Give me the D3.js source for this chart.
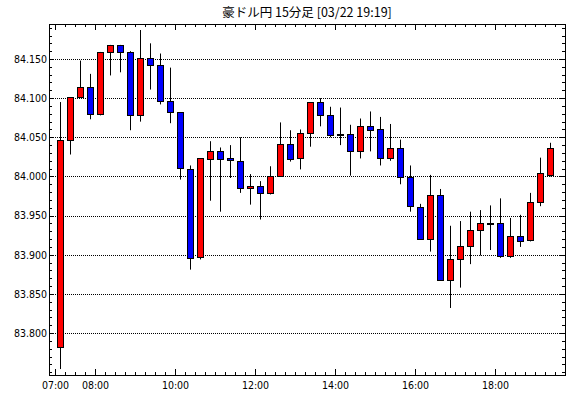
<!DOCTYPE html>
<html>
<head>
<meta charset="utf-8">
<script src="https://cdn.jsdelivr.net/npm/d3@7"></script>
<style>
  body { margin: 0; background: #fff; }
  svg { display: block; }
  .tick text { font-family: 'DejaVu Sans Condensed', 'DejaVu Sans', sans-serif; font-stretch: condensed; font-size: 10.5px; fill: #000; }
  .title { font-family: 'Noto Sans CJK JP', sans-serif; font-size: 12.5px; }
</style>
</head>
<body>
<svg></svg>
<script>
let width = 570,
    height = 398,
    plotLeft = 49,
    plotRight = 565,
    plotTop = 24,
    plotBottom = 375

const times = ["07:00","07:15","07:30","07:45","08:00","08:15","08:30","08:45",
  "09:00","09:15","09:30","09:45","10:00","10:15","10:30","10:45",
  "11:00","11:15","11:30","11:45","12:00","12:15","12:30","12:45",
  "13:00","13:15","13:30","13:45","14:00","14:15","14:30","14:45",
  "15:00","15:15","15:30","15:45","16:00","16:15","16:30","16:45",
  "17:00","17:15","17:30","17:45","18:00","18:15","18:30","18:45",
  "19:00","19:15"]

const opens = [83.782,84.046,84.101,84.114,84.080,84.159,84.168,84.159,
  84.078,84.151,84.142,84.096,84.082,84.010,83.896,84.023,
  84.033,84.023,84.020,83.985,83.988,83.979,84.001,84.042,
  84.023,84.055,84.095,84.078,84.054,84.054,84.032,84.064,
  84.060,84.023,84.036,83.999,83.961,83.920,83.976,83.868,
  83.895,83.911,83.931,83.940,83.941,83.899,83.924,83.918,
  83.967,84.001]

const highs = [84.095,84.101,84.148,84.131,84.159,84.168,84.168,84.160,
  84.187,84.170,84.157,84.139,84.082,84.014,84.023,84.045,
  84.037,84.040,84.050,84.003,83.994,84.013,84.069,84.059,
  84.060,84.095,84.100,84.089,84.088,84.066,84.074,84.083,
  84.076,84.067,84.047,84.014,83.965,84.002,83.984,83.937,
  83.943,83.955,83.957,83.963,83.972,83.947,83.951,83.979,
  84.024,84.043]

const lows = [83.754,84.028,84.101,84.073,84.078,84.129,84.133,84.059,
  84.070,84.111,84.092,84.068,83.996,83.881,83.894,83.969,
  83.955,83.998,83.979,83.964,83.945,83.977,84.001,84.019,
  84.009,84.038,84.064,84.050,84.040,84.001,84.023,84.032,
  84.014,84.020,83.990,83.955,83.920,83.904,83.867,83.832,
  83.858,83.888,83.899,83.906,83.896,83.896,83.910,83.917,
  83.962,84.000]

const closes = [84.046,84.101,84.114,84.080,84.159,84.168,84.159,84.078,
  84.151,84.142,84.096,84.082,84.010,83.896,84.023,84.033,
  84.023,84.020,83.985,83.988,83.979,84.001,84.042,84.023,
  84.055,84.095,84.078,84.053,84.054,84.032,84.064,84.059,
  84.023,84.036,83.999,83.962,83.920,83.976,83.868,83.895,
  83.911,83.931,83.940,83.941,83.899,83.924,83.918,83.967,
  84.004,84.036]

const yTicks = [83.800, 83.850, 83.900, 83.950, 84.000, 84.050, 84.100, 84.150]
const xTickLabels = ["07:00", "08:00", "10:00", "12:00", "14:00", "16:00", "18:00"]
const title = "豪ドル円 15分足 [03/22 19:19]"

const parse = d3.timeParse("%H:%M")

const candles = times.map((t, i) => {
    return {t: parse(t), o: opens[i], h: highs[i], l: lows[i], c: closes[i]}
})

let svg = d3.select("svg")
            .attr("width", width)
            .attr("height", height)

const x = d3.scaleTime()
    .domain([parse("06:51"), parse("19:45")])
    .range([plotLeft, plotRight])

const y = d3.scaleLinear()
    .domain([83.7464, 84.1947])
    .range([plotBottom, plotTop])

const mid = d => d3.timeSecond.offset(d.t, 450)

svg.append("text")
    .attr("class", "title")
    .attr("x", (plotLeft + plotRight) / 2)
    .attr("y", 17)
    .attr("text-anchor", "middle")
    .text(title)

// dotted grid
svg.append("g")
    .attr("transform", `translate(${plotLeft},0)`)
    .call(d3.axisLeft(y).tickValues(yTicks).tickSize(-(plotRight - plotLeft)).tickFormat(""))
    .call(g => g.select(".domain").remove())
    .selectAll("line")
    .attr("stroke", "#000")
    .attr("stroke-dasharray", "1,1")
    .attr("shape-rendering", "crispEdges")

const minorY = d3.range(83.75, 84.195, 0.01)
const minorX = d3.timeMinute.every(15).range(parse("07:00"), parse("19:46"))
const majorX = xTickLabels.map(parse)

const styleAxis = g => {
    g.select(".domain").remove()
    g.selectAll("line").attr("stroke", "#000").attr("shape-rendering", "crispEdges")
}

// left
svg.append("g").attr("transform", `translate(${plotLeft},0)`)
    .call(d3.axisLeft(y).tickValues(minorY).tickSize(-3).tickFormat(""))
    .call(styleAxis)
svg.append("g").attr("transform", `translate(${plotLeft},0)`)
    .call(d3.axisLeft(y).tickValues(yTicks).tickSize(-5).tickPadding(2).tickFormat(d3.format(".3f")))
    .call(styleAxis)

// right
svg.append("g").attr("transform", `translate(${plotRight},0)`)
    .call(d3.axisRight(y).tickValues(minorY).tickSize(-3).tickFormat(""))
    .call(styleAxis)
svg.append("g").attr("transform", `translate(${plotRight},0)`)
    .call(d3.axisRight(y).tickValues(yTicks).tickSize(-5).tickFormat(""))
    .call(styleAxis)

// bottom
svg.append("g").attr("transform", `translate(0,${plotBottom})`)
    .call(d3.axisBottom(x).tickValues(minorX).tickSize(-3).tickFormat(""))
    .call(styleAxis)
svg.append("g").attr("transform", `translate(0,${plotBottom})`)
    .call(d3.axisBottom(x).tickValues(majorX).tickSize(-6).tickPadding(7).tickFormat(d3.timeFormat("%H:%M")))
    .call(styleAxis)

// top
svg.append("g").attr("transform", `translate(0,${plotTop})`)
    .call(d3.axisTop(x).tickValues(minorX).tickSize(-3).tickFormat(""))
    .call(styleAxis)
svg.append("g").attr("transform", `translate(0,${plotTop})`)
    .call(d3.axisTop(x).tickValues(majorX).tickSize(-6).tickFormat(""))
    .call(styleAxis)

svg.append("rect")
    .attr("x", plotLeft + 0.5)
    .attr("y", plotTop + 0.5)
    .attr("width", plotRight - plotLeft)
    .attr("height", plotBottom - plotTop)
    .attr("fill", "none")
    .attr("stroke", "#000")
    .attr("shape-rendering", "crispEdges")

// candles
const g = svg.append("g")

g.selectAll("line.wick")
    .data(candles)
    .enter()
    .append("line")
    .attr("class", "wick")
    .attr("x1", d => Math.round(x(mid(d))) + 0.5)
    .attr("x2", d => Math.round(x(mid(d))) + 0.5)
    .attr("y1", d => y(d.h))
    .attr("y2", d => y(d.l))
    .attr("stroke", "#000")
    .attr("stroke-width", 1)

g.selectAll("rect.body")
    .data(candles)
    .enter()
    .append("rect")
    .attr("class", "body")
    .attr("x", d => Math.round(x(mid(d))) - 2.5)
    .attr("y", d => Math.round(y(Math.max(d.o, d.c))) + 0.5)
    .attr("width", 6)
    .attr("height", d => Math.max(1, Math.round(Math.abs(y(d.o) - y(d.c)))))
    .attr("fill", d => d.c > d.o ? "#ff0000" : "#0000ff")
    .attr("stroke", "#000")
    .attr("stroke-width", 1)
</script>
</body>
</html>
